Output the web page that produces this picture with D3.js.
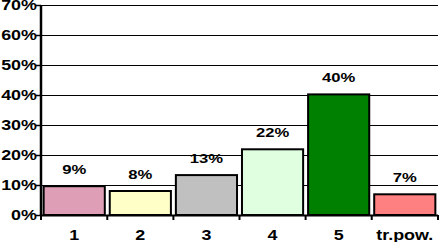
<!DOCTYPE html>
<html>
<head>
<meta charset="utf-8">
<script src="https://d3js.org/d3.v7.min.js"></script>
<style>
  body { margin: 0; background: #fff; }
  svg text { font-family: "Liberation Sans", Arial, sans-serif; font-weight: bold; fill: #000; }
</style>
</head>
<body>
<script>
// chart data
let categories = ["1", "2", "3", "4", "5", "tr.pow."]
let values = [9.6, 8, 13.3, 21.9, 40.2, 6.9]
let valueLabels = ["9%", "8%", "13%", "22%", "40%", "7%"]
let colors = ["#DE9EB5", "#FFFFC8", "#C0C0C0", "#E0FFE0", "#008000", "#FF8080"]
let yTicks = [0, 10, 20, 30, 40, 50, 60, 70]

let width = 439
let height = 242
let plotLeft = 41, plotRight = 438, plotTop = 5, plotBottom = 215
let stretch = 1.28

let svg = d3.select("body").append("svg")
  .attr("width", width)
  .attr("height", height)

let x = d3.scaleBand()
  .domain(categories)
  .range([plotLeft, plotRight])
  .paddingInner(0.075)
  .paddingOuter(0.04)

let y = d3.scaleLinear()
  .domain([0, 70])
  .range([plotBottom, plotTop])

// gridlines
svg.append("g")
  .selectAll("line")
  .data(yTicks.filter(d => d > 0))
  .join("line")
  .attr("x1", plotLeft)
  .attr("x2", plotRight)
  .attr("y1", d => Math.round(y(d)) + 0.5)
  .attr("y2", d => Math.round(y(d)) + 0.5)
  .attr("stroke", "#000")
  .attr("stroke-width", 1.2)

// bars
svg.append("g")
  .selectAll("rect")
  .data(values)
  .join("rect")
  .attr("x", (d, i) => x(categories[i]))
  .attr("width", x.bandwidth())
  .attr("y", d => y(d))
  .attr("height", d => plotBottom - y(d))
  .attr("fill", (d, i) => colors[i])
  .attr("stroke", "#000")
  .attr("stroke-width", 2)

// value labels
svg.append("g")
  .selectAll("text")
  .data(values)
  .join("text")
  .attr("transform", (d, i) => `translate(${x(categories[i]) + x.bandwidth() / 2},${y(d) - 12}) scale(${stretch},1)`)
  .attr("text-anchor", "middle")
  .style("font-size", "13px")
  .text((d, i) => valueLabels[i])

// y axis
let yAxis = svg.append("g")
yAxis.append("line")
  .attr("x1", plotLeft).attr("x2", plotLeft)
  .attr("y1", plotTop).attr("y2", plotBottom + 1)
  .attr("stroke", "#000").attr("stroke-width", 2.5)
yAxis.selectAll("line.tick")
  .data(yTicks)
  .join("line")
  .attr("class", "tick")
  .attr("x1", plotLeft - 5).attr("x2", plotLeft)
  .attr("y1", d => Math.round(y(d)) + 0.5)
  .attr("y2", d => Math.round(y(d)) + 0.5)
  .attr("stroke", "#000").attr("stroke-width", 1.5)
yAxis.selectAll("text")
  .data(yTicks)
  .join("text")
  .attr("transform", d => `translate(37,${y(d) + 5}) scale(${stretch},1)`)
  .attr("text-anchor", "end")
  .style("font-size", "14px")
  .text(d => d + "%")

// x axis
let xAxis = svg.append("g")
xAxis.append("line")
  .attr("x1", plotLeft).attr("x2", plotRight)
  .attr("y1", plotBottom + 0.5).attr("y2", plotBottom + 0.5)
  .attr("stroke", "#000").attr("stroke-width", 2)
let bounds = categories.map(c => x(c) - x.step() * x.paddingInner() / 2)
bounds.push(plotRight)
bounds[0] = plotLeft
xAxis.selectAll("line.tick")
  .data(bounds)
  .join("line")
  .attr("class", "tick")
  .attr("x1", d => d).attr("x2", d => d)
  .attr("y1", plotBottom).attr("y2", plotBottom + 5)
  .attr("stroke", "#000").attr("stroke-width", 2)
xAxis.selectAll("text")
  .data(categories)
  .join("text")
  .attr("transform", d => `translate(${x(d) + x.bandwidth() / 2},${240}) scale(${stretch},1)`)
  .attr("text-anchor", "middle")
  .style("font-size", "14px")
  .text(d => d)
</script>
</body>
</html>
